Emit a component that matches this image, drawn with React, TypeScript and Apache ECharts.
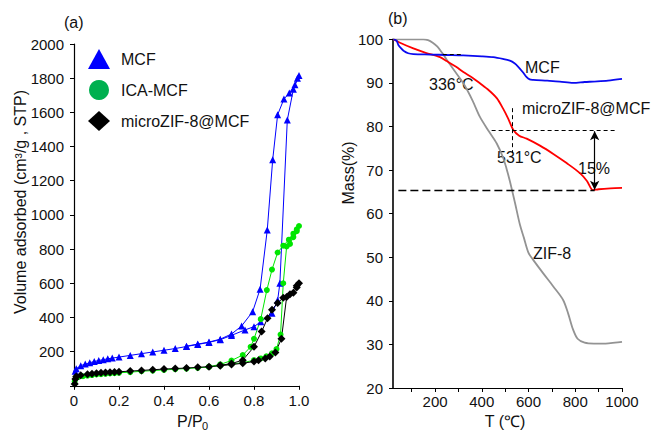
import React, { useEffect, useRef } from 'react';
import * as echarts from 'echarts';

// ---------- Panel (a): N2 isotherms (P/P0, volume) ----------
const mcfAdsorption = [
  [0.005, 85], [0.01, 100], [0.03, 118], [0.05, 127], [0.07, 135], [0.09, 142], [0.11, 148],
  [0.13, 153], [0.15, 158], [0.17, 162], [0.2, 168], [0.25, 178], [0.3, 188], [0.35, 198],
  [0.4, 208], [0.45, 218], [0.5, 230], [0.55, 242], [0.6, 254], [0.65, 270], [0.7, 295],
  [0.76, 327], [0.8, 346], [0.83, 375], [0.88, 425], [0.905, 500], [0.915, 600],
  [0.948, 1555], [0.975, 1735], [1.0, 1815],
];
const mcfDesorption = [
  [0.993, 1800], [0.982, 1762], [0.957, 1713], [0.933, 1678], [0.905, 1586], [0.883, 1322],
  [0.859, 912], [0.827, 565], [0.794, 434], [0.745, 350], [0.7, 303], [0.65, 273], [0.6, 256],
  [0.55, 244], [0.5, 232],
];
const icaAdsorption = [
  [0.003, 25], [0.008, 45], [0.02, 52], [0.04, 56], [0.06, 60], [0.08, 63], [0.1, 66],
  [0.12, 68], [0.14, 70], [0.16, 72], [0.18, 74], [0.2, 76], [0.25, 80], [0.3, 85], [0.35, 89],
  [0.4, 93], [0.45, 97], [0.5, 101], [0.55, 105], [0.6, 110], [0.65, 118], [0.7, 128],
  [0.75, 135], [0.8, 150], [0.83, 160], [0.855, 172], [0.88, 190], [0.9, 215], [0.918, 300],
  [0.93, 600], [0.945, 815], [0.96, 830], [0.975, 870], [0.99, 905], [1.0, 935],
];
const icaDesorption = [
  [0.99, 915], [0.975, 890], [0.955, 855], [0.93, 820], [0.905, 780], [0.88, 680],
  [0.857, 560], [0.83, 390], [0.8, 275], [0.785, 228], [0.75, 180], [0.7, 148], [0.65, 125],
  [0.6, 112],
];
const zifMcfAdsorption = [
  [0.003, 10], [0.006, 40], [0.01, 55], [0.03, 62], [0.06, 68], [0.08, 71], [0.1, 74],
  [0.12, 76], [0.14, 78], [0.16, 80], [0.18, 81], [0.2, 82], [0.25, 86], [0.3, 90], [0.35, 94],
  [0.4, 98], [0.45, 101], [0.5, 104], [0.55, 108], [0.6, 112], [0.65, 118], [0.7, 124],
  [0.75, 132], [0.8, 142], [0.82, 150], [0.85, 160], [0.87, 172], [0.895, 195], [0.922, 275],
  [0.945, 520], [0.975, 545], [0.99, 575], [1.0, 600],
];
const zifMcfDesorption = [
  [0.99, 585], [0.96, 535], [0.93, 515], [0.905, 485], [0.88, 445], [0.86, 395],
  [0.834, 317], [0.8, 228], [0.75, 150], [0.7, 130], [0.65, 120],
];

// ---------- Panel (b): TGA (T in °C, mass %) ----------
const tgaMcf = [
  [22, 100], [35, 99.7], [43, 98.7], [55, 97.9], [65, 97.4], [85, 96.8], [107, 96.6],
  [179, 96.5], [250, 96.4], [321, 96.3], [400, 96.1], [449, 95.9], [490, 95.5], [520, 95.1],
  [540, 94.5], [556, 93.7], [575, 92.5], [592, 91.3], [605, 90.8], [620, 90.7], [680, 90.5],
  [734, 90.3], [791, 90.0], [840, 90.2], [876, 90.3], [940, 90.5], [1000, 90.9],
];
const tgaZifMcf = [
  [22, 100], [50, 99.2], [107, 97.9], [160, 96.9], [221, 95.9], [250, 95.0], [290, 93.7],
  [321, 92.5], [360, 91.2], [392, 89.9], [430, 88.3], [464, 86.5], [490, 84.2], [513, 81.8],
  [535, 79.2], [560, 77.9], [592, 77.2], [649, 75.6], [706, 73.7], [763, 71.6], [820, 69.3],
  [850, 67.5], [876, 65.4], [900, 65.6], [950, 65.8], [1000, 65.9],
];
const tgaZif = [
  [22, 100], [60, 100], [100, 100], [150, 100], [170, 99.8], [190, 99.2], [210, 98.3],
  [230, 96.9], [250, 95.3], [280, 93.0], [321, 89.9], [360, 86.0], [392, 82.2], [430, 78.9],
  [464, 76.1], [490, 73.0], [505, 70.5], [520, 67.5], [542, 62.5], [563, 57.5], [580, 54.5],
  [600, 51.0], [620, 49.4], [663, 46.3], [706, 43.3], [748, 40.2], [770, 37.0], [790, 33.5],
  [810, 31.3], [840, 30.4], [880, 30.2], [930, 30.2], [970, 30.4], [1000, 30.6],
];

const rightXLabels = [200, 400, 600, 800, 1000];
const rightXTicks = [100, 200, 300, 400, 500, 600, 700, 800, 900, 1000];

// annotation lines (data units)
const onsetMcf = 233;
const onsetZifMcf = 532;
const plateauLevel = 96.5;
const upperLevel = 79.2;
const lowerLevel = 65.4;
const arrowT = 883;

const FONT = 'Liberation Sans, Arial, sans-serif';

export default function App() {
  const ref = useRef<HTMLDivElement>(null);
  useEffect(() => {
    const chart = echarts.init(ref.current!, null, { renderer: 'svg' });
    const dash = { color: '#000', width: 1, type: [4, 3] as any };
    const axisCommon = {
      axisLine: { show: true, lineStyle: { color: '#000', width: 1.2 } },
      axisTick: { show: true, inside: false, length: 4, lineStyle: { color: '#000', width: 1 } },
      splitLine: { show: false },
    };
    const option: any = {
      animation: false,
      textStyle: { fontFamily: FONT },
      grid: [
        { left: 74, top: 44, width: 225, height: 341.8 },
        { left: 393, top: 39.3, width: 229, height: 348.7 },
      ],
      xAxis: [
        {
          ...axisCommon,
          gridIndex: 0, type: 'value', min: 0, max: 1, interval: 0.2,
          axisLabel: {
            fontSize: 15, color: '#111', margin: 7, fontFamily: FONT,
            formatter: (v: number) => (v === 0 ? '0' : v.toFixed(1)),
          },
        },
        {
          ...axisCommon,
          gridIndex: 1, type: 'value', min: 20, max: 1000,
          axisTick: { ...axisCommon.axisTick, customValues: rightXTicks },
          axisLabel: {
            fontSize: 15, color: '#111', margin: 6, fontFamily: FONT,
            customValues: rightXLabels,
            formatter: (v: number) => String(v),
          },
        },
      ],
      yAxis: [
        {
          ...axisCommon,
          gridIndex: 0, type: 'value', min: 0, max: 2000, interval: 200,
          axisLabel: {
            fontSize: 15, color: '#111', margin: 10, fontFamily: FONT,
            formatter: (v: number) => (v === 0 ? '' : String(v)),
          },
        },
        {
          ...axisCommon,
          gridIndex: 1, type: 'value', min: 20, max: 100, interval: 10,
          axisLine: { show: true, lineStyle: { color: '#000', width: 1.6 } },
          axisLabel: { fontSize: 15, color: '#111', margin: 10, fontFamily: FONT },
        },
      ],
      legend: {
        orient: 'vertical', left: 83, top: 44, itemWidth: 22, itemHeight: 20, itemGap: 11,
        textStyle: { fontSize: 16, color: '#111', fontFamily: FONT, padding: [0, 0, 0, 6] },
        data: [
          { name: 'MCF', icon: 'triangle', itemStyle: { color: '#0000ff' } },
          { name: 'ICA-MCF', icon: 'circle', itemStyle: { color: '#00b050' } },
          { name: 'microZIF-8@MCF', icon: 'diamond', itemStyle: { color: '#000' } },
        ],
        selectedMode: false,
      },
      series: [
        {
          name: 'MCF', type: 'line', xAxisIndex: 0, yAxisIndex: 0,
          data: [...mcfAdsorption, ...mcfDesorption],
          symbol: 'triangle', symbolSize: 7, showAllSymbol: true,
          lineStyle: { color: '#0000ff', width: 1 }, itemStyle: { color: '#0000ff' },
        },
        {
          name: 'ICA-MCF', type: 'line', xAxisIndex: 0, yAxisIndex: 0,
          data: [...icaAdsorption, ...icaDesorption],
          symbol: 'circle', symbolSize: 6, showAllSymbol: true,
          lineStyle: { color: '#00e600', width: 1 }, itemStyle: { color: '#00e600' },
        },
        {
          name: 'microZIF-8@MCF', type: 'line', xAxisIndex: 0, yAxisIndex: 0,
          data: [...zifMcfAdsorption, ...zifMcfDesorption],
          symbol: 'diamond', symbolSize: 8, showAllSymbol: true,
          lineStyle: { color: '#000', width: 1 }, itemStyle: { color: '#000' },
        },
        {
          name: 'ZIF-8 TGA', type: 'line', xAxisIndex: 1, yAxisIndex: 1, data: tgaZif,
          symbol: 'none', smooth: 0.3, lineStyle: { color: '#939393', width: 1.8 },
        },
        {
          name: 'microZIF-8@MCF TGA', type: 'line', xAxisIndex: 1, yAxisIndex: 1, data: tgaZifMcf,
          symbol: 'none', smooth: 0.3, lineStyle: { color: '#ff0000', width: 1.8 },
        },
        {
          name: 'MCF TGA', type: 'line', xAxisIndex: 1, yAxisIndex: 1, data: tgaMcf,
          symbol: 'none', smooth: 0.3, lineStyle: { color: '#0a0af0', width: 1.8 },
          markLine: {
            silent: true, symbol: ['none', 'none'], label: { show: false }, animation: false,
            data: [
              [{ coord: [onsetMcf, 101.4], lineStyle: dash }, { coord: [onsetMcf, 92.6] }],
              [{ coord: [onsetMcf, plateauLevel], lineStyle: dash }, { coord: [320, plateauLevel] }],
              [{ coord: [onsetZifMcf, 84.2], lineStyle: dash }, { coord: [onsetZifMcf, 73.9] }],
              [{ coord: [442, upperLevel], lineStyle: dash }, { coord: [976, upperLevel] }],
              [{ coord: [43, lowerLevel], lineStyle: { color: '#000', width: 1.3, type: [8, 4] } }, { coord: [arrowT, lowerLevel] }],
              [
                { coord: [arrowT, upperLevel - 0.3], symbol: 'arrow', symbolSize: [7, 9], lineStyle: { color: '#000', width: 1.2, type: 'solid' } },
                { coord: [arrowT, lowerLevel + 0.1], symbol: 'arrow', symbolSize: [7, 9] },
              ],
            ],
          },
        },
      ],
      graphic: [
        { type: 'text', x: 64, y: 22, style: { text: '(a)', fontSize: 16, fontFamily: FONT, fill: '#111', verticalAlign: 'middle' } },
        { type: 'text', x: 388, y: 18, style: { text: '(b)', fontSize: 16, fontFamily: FONT, fill: '#111', verticalAlign: 'middle' } },
        {
          type: 'text', x: 20, y: 202, rotation: Math.PI / 2,
          style: { text: 'Volume adsorbed (cm³/g , STP)', fontSize: 16, fontFamily: FONT, fill: '#111', align: 'center', verticalAlign: 'middle' },
        },
        { type: 'text', x: 177, y: 421, style: { text: 'P/P', fontSize: 16, fontFamily: FONT, fill: '#111', verticalAlign: 'middle' } },
        { type: 'text', x: 202, y: 426, style: { text: '0', fontSize: 11, fontFamily: FONT, fill: '#111', verticalAlign: 'middle' } },
        {
          type: 'text', x: 348, y: 173, rotation: Math.PI / 2,
          style: { text: 'Mass(%)', fontSize: 16, fontFamily: FONT, fill: '#111', align: 'center', verticalAlign: 'middle' },
        },
        { type: 'text', x: 505, y: 421, style: { text: 'T (℃)', fontSize: 16, fontFamily: FONT, fill: '#111', align: 'center', verticalAlign: 'middle' } },
        { type: 'text', x: 525, y: 67, style: { text: 'MCF', fontSize: 16, fontFamily: FONT, fill: '#111', verticalAlign: 'middle' } },
        { type: 'text', x: 522, y: 108, style: { text: 'microZIF-8@MCF', fontSize: 16, fontFamily: FONT, fill: '#111', verticalAlign: 'middle' } },
        { type: 'text', x: 533, y: 253, style: { text: 'ZIF-8', fontSize: 16, fontFamily: FONT, fill: '#111', verticalAlign: 'middle' } },
        { type: 'text', x: 429, y: 84, style: { text: '336°C', fontSize: 16, fontFamily: FONT, fill: '#111', verticalAlign: 'middle' } },
        { type: 'text', x: 497, y: 157, style: { text: '531°C', fontSize: 16, fontFamily: FONT, fill: '#111', verticalAlign: 'middle' } },
        { type: 'text', x: 578, y: 168, style: { text: '15%', fontSize: 16, fontFamily: FONT, fill: '#111', verticalAlign: 'middle' } },
      ],
    };
    chart.setOption(option);
    return () => chart.dispose();
  }, []);
  return <div ref={ref} style={{ position: 'absolute', left: 0, top: 0, width: 652, height: 431 }} />;
}
